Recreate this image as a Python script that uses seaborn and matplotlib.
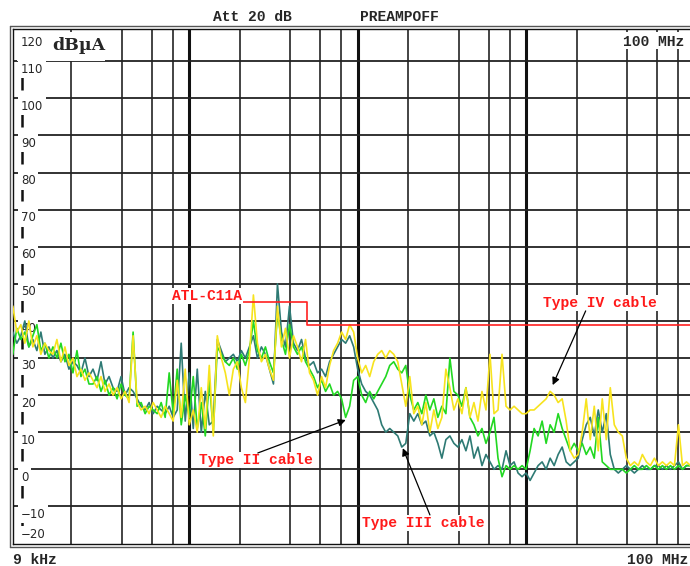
import numpy as np
import pandas as pd
import matplotlib
matplotlib.use("Agg")
import matplotlib.pyplot as plt
import seaborn as sns
from matplotlib.lines import Line2D
from matplotlib.patches import Rectangle
from matplotlib.ticker import NullLocator

# ---------------- data ----------------
F_START = 9e3
F_STOP = 100e6

# Type III cable (dark teal), dBuA
type_iii = [
    37, 34, 36, 40, 33, 35, 32, 37, 31, 33,
    30, 32, 29, 31, 27, 29, 28, 26, 30, 25,
    27, 24, 29, 23, 25, 22, 21, 25, 20, 22,
    21, 19, 17, 16, 18, 15, 17, 16, 15, 17,
    14, 16, 34, 13, 26, 11, 27, 10, 21, 12, 13,
    35, 32, 29, 30, 31, 29, 32, 30, 33, 36,
    30, 33, 31, 27, 23, 50, 37, 33, 44, 34,
    32, 35, 30, 28, 29, 26, 27, 25, 29, 31,
    33, 35, 34, 36, 33, 27, 23, 21, 20, 18,
    16, 12, 10, 11, 10, 9, 6, 7, 15, 13,
    15, 12, 13, 9, 10, 7, 3, 8, 9, 7,
    6, 8, 5, 9, 3, 6, 1, 4, 2, 0,
    1, 0, 5, 1, 2, -1, -2, -1, -3, -1,
    1, 2, 0, 3, 1, 4, 6, 2, 1, 2,
    3, 8, 12, 14, 9, 16, 10, 15, 4, 0,
    -1, 0, 1, 0, -1, 0, 1, 0, 0, 1,
    1, 0, 1, 0, 1, 2, 0, 1, 1, 1,
]

# Type II cable (bright green), dBuA
type_ii = [
    31, 38, 35, 37, 33, 36, 39, 32, 34, 30,
    33, 30, 34, 29, 31, 26, 32, 25, 27, 23,
    23, 25, 21, 24, 20, 22, 19, 23, 20, 19,
    37, 17, 18, 15, 17, 16, 15, 18, 14, 26,
    15, 27, 12, 20, 14, 25, 11, 18, 9, 24, 10,
    33, 31, 29, 28, 30, 27, 31, 28, 32, 40,
    32, 30, 33, 29, 26, 42, 35, 31, 39, 33,
    31, 33, 29, 27, 25, 22, 24, 21, 23, 20,
    21, 19, 14, 17, 24, 25, 20, 18, 21, 19,
    21, 23, 25, 28, 29, 27, 26, 28, 20, 16,
    18, 15, 20, 16, 19, 14, 17, 15, 30, 21,
    20, 17, 22, 14, 12, 9, 11, 7, 10, 14,
    3, -2, 1, 0, 1, 0, 1, 0, 5, 11,
    9, 13, 7, 12, 10, 15, 11, 8, 5, 7,
    5, 7, 4, 6, 3, 14, 2, 1, 0, 0,
    0, 0, -1, 0, 1, 0, 0, 1, 0, 1,
    0, 1, 0, 1, 0, 1, 0, 1, 1, 1,
]

# Type IV cable (yellow), dBuA
type_iv = [
    44, 37, 39, 34, 40, 33, 36, 31, 34, 32,
    31, 35, 29, 33, 28, 30, 25, 27, 24, 26,
    24, 22, 25, 21, 23, 20, 22, 19, 21, 18,
    36, 18, 16, 17, 15, 18, 16, 14, 17, 15,
    13, 24, 14, 27, 12, 16, 10, 22, 11, 28, 9,
    36, 30, 26, 20, 27, 29, 22, 18, 30, 47,
    34, 29, 31, 27, 24, 44, 33, 38, 30, 36,
    33, 29, 35, 26, 24, 20, 25, 22, 28, 32,
    34, 37, 35, 39, 37, 30, 26, 28, 25, 29,
    31, 32, 30, 32, 31, 29, 23, 17, 25, 15,
    17, 12, 18, 10, 16, 11, 14, 27, 22, 16,
    19, 15, 22, 14, 18, 13, 21, 16, 31, 15,
    16, 31, 17, 16, 17, 16, 15, 15, 16, 16,
    17, 18, 19, 21, 20, 18, 19, 13, 5, 3,
    4, 10, 19, 8, 17, 5, 19, 8, 22, 12,
    10, 9, 3, 1, 2, 1, 4, 2, 1, 3,
    1, 2, 1, 2, 1, 12, 1, 2, 1, 1,
]

limit_freq = [150e3, 500e3, 100e6]
limit_level = [45, 39, 39]

level_ticks = [-20, -10, 0, 10, 20, 30, 40, 50, 60, 70, 80, 90, 100, 110]
cable_names = ["Type III", "Type II", "Type IV"]
cable_colors = ["#2e7a74", "#22d822", "#f7e31e"]

# ---------------- figure ----------------
sns.set_style("white")
plt.rcParams['font.family'] = ['DejaVu Sans']
MONO = 'Liberation Mono'
RED = '#ff1a1a'

W, H = 690, 566
fig = plt.figure(figsize=(W / 100, H / 100), dpi=100)
AX_L, AX_R, AX_T, AX_B = 12.8, 694.5, 29.0, 543.5
ax = fig.add_axes([AX_L / W, 1 - AX_B / H, (AX_R - AX_L) / W, (AX_B - AX_T) / H])

def fx(px):
    return px / W

def fy(py):
    return 1 - py / H

n = len(type_iii)
freq = np.geomspace(F_START, F_STOP, n)
df = pd.DataFrame({
    "freq": np.concatenate([freq, freq, freq]),
    "level": type_iii + type_ii + type_iv,
    "cable": [cable_names[0]] * n + [cable_names[1]] * n + [cable_names[2]] * n,
})
sns.lineplot(data=df, x="freq", y="level", hue="cable", hue_order=cable_names,
             palette=dict(zip(cable_names, cable_colors)), estimator=None,
             sort=False, lw=1.2, legend=False, ax=ax, zorder=3)

ax.set_xscale('log')
ax.set_xlim(F_START, F_STOP)
ax.set_ylim(-20, 118.7)
ax.xaxis.set_minor_locator(NullLocator())
ax.set_xticks([])
ax.set_yticks([])
ax.set_xlabel('')
ax.set_ylabel('')
for s in ax.spines.values():
    s.set_color('#111111')
    s.set_linewidth(1.0)

# grid
for dec in [1e4, 1e5, 1e6, 1e7]:
    for k in [2, 4, 6, 8]:
        ax.axvline(k * dec, color='#111111', lw=1.1, zorder=1)
for dec in [1e5, 1e6, 1e7]:
    ax.axvline(dec, color='#111111', lw=2.2, zorder=1)
for v in level_ticks[1:]:
    ax.axhline(v, color='#222222', lw=1.3, zorder=1)

# limit line
ax.plot(limit_freq, limit_level, drawstyle='steps-post', color='#ff2020', lw=1.2, zorder=4)

# left dashes next to the level labels
ytr = ax.get_yaxis_transform()
for v in level_ticks[:-1]:
    ax.plot([0.0128, 0.0128], [v + 2.3, v + 7.8], color='#111111', lw=1.8,
            transform=ytr, zorder=2, solid_capstyle='butt')
ax.plot([0.0128, 0.0128], [111, 114], color='#111111', lw=1.8,
        transform=ytr, zorder=2, solid_capstyle='butt')

# level labels
for v in level_ticks:
    lab = str(v).replace('-', '\u2212')
    if v == -20:
        ax.annotate(lab, xy=(0.012, v), xycoords=('axes fraction', 'data'),
                    xytext=(0, 1.5), textcoords='offset points', ha='left', va='bottom',
                    fontsize=8.5, zorder=2.5,
                    bbox=dict(boxstyle='square,pad=0.2', fc='white', ec='none'))
    else:
        ax.annotate(lab, xy=(0.012, v), xycoords=('axes fraction', 'data'),
                    xytext=(0, -1.0), textcoords='offset points', ha='left', va='top',
                    fontsize=8.5, zorder=2.5,
                    bbox=dict(boxstyle='square,pad=0.22', fc='white', ec='none'))

# corner boxes
ax.add_patch(Rectangle((fx(17), fy(61)), fx(105) - fx(17), fy(32) - fy(61),
                       transform=fig.transFigure, fc='white', ec='none', zorder=2.4))
ax.add_patch(Rectangle((fx(618), fy(49)), fx(700) - fx(618), fy(32) - fy(49),
                       transform=fig.transFigure, fc='white', ec='none', zorder=2.4))
fig.text(fx(21), fy(42), '120', fontsize=8.5, ha='left', va='center')
fig.text(fx(52), fy(45.5), 'dB\u00b5A', fontsize=12.5, family='DejaVu Serif', weight='bold',
         ha='left', va='center')
fig.text(fx(623), fy(42.5), '100 MHz', fontsize=10.5, family=MONO, weight='bold',
         ha='left', va='center')

# outer frame lines
fig.add_artist(Line2D([fx(10), fx(10)], [fy(26), fy(546.5)], color='#555555', lw=1.0))
fig.add_artist(Line2D([fx(10), 1.0], [fy(26), fy(26)], color='#555555', lw=1.0))
fig.add_artist(Line2D([fx(10), 1.0], [fy(546.5), fy(546.5)], color='#555555', lw=1.0))

# header / footer texts
txt_kw = dict(fontsize=10.5, family=MONO, weight='bold', ha='left', va='center')
fig.text(fx(213), fy(17), 'Att 20 dB', **txt_kw)
fig.text(fx(360), fy(17), 'PREAMPOFF', **txt_kw)
fig.text(fx(13), fy(560), '9 kHz', **txt_kw)
fig.text(fx(627), fy(560), '100 MHz', **txt_kw)

# annotations
lab_kw = dict(ha='center', va='center', color=RED, fontsize=10.5, family=MONO,
              weight='bold', zorder=6, bbox=dict(fc='white', ec='none', pad=0.6))
ax.text(127.5e3, 46.7, 'ATL-C11A', **lab_kw)
ax.text(27.4e6, 44.8, 'Type IV cable', **lab_kw)
ax.text(250.8e3, 2.5, 'Type II cable', **lab_kw)
ax.text(2.47e6, -14.5, 'Type III cable', **lab_kw)

arrow_kw = dict(arrowstyle='-|>', color='black', lw=0.9, mutation_scale=11,
                shrinkA=0, shrinkB=0)
ax.annotate('', xy=(14.4e6, 22.7), xytext=(22.6e6, 42.7), arrowprops=arrow_kw, zorder=6)
ax.annotate('', xy=(852e3, 13.3), xytext=(256e3, 4.4), arrowprops=arrow_kw, zorder=6)
ax.annotate('', xy=(1.857e6, 5.7), xytext=(2.69e6, -12.3), arrowprops=arrow_kw, zorder=6)

fig.savefig('out.png', dpi=100)
